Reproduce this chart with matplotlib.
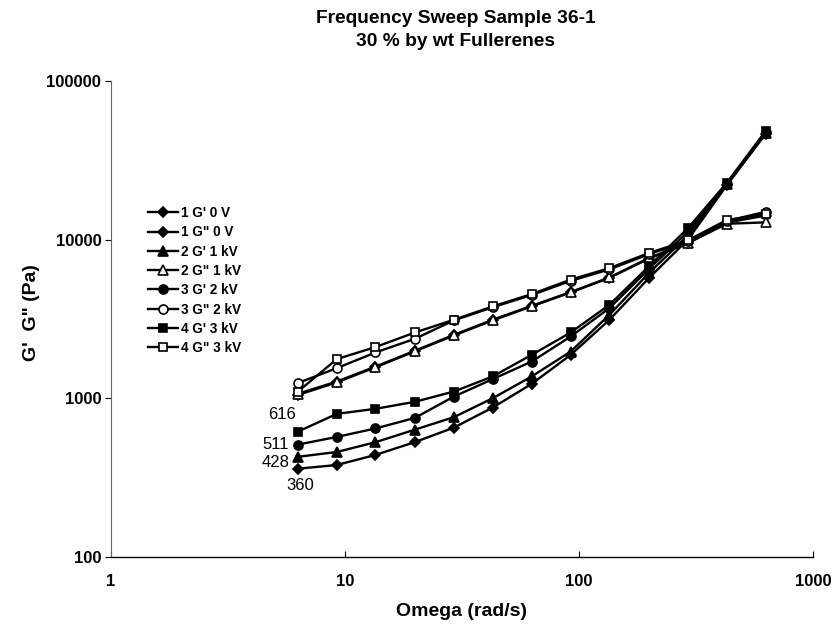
import matplotlib
matplotlib.use("Agg")
import matplotlib.pyplot as plt
from matplotlib.ticker import FixedLocator, NullLocator, FixedFormatter

plt.rcParams['font.family'] = ['Liberation Sans', 'DejaVu Sans']

omega = [6.28, 9.22, 13.5, 19.9, 29.2, 42.8, 62.8, 92.2, 135, 199, 292, 428, 628]

g1_p = [360, 380, 440, 530, 654, 875, 1234, 1880, 3128, 5730, 10000, 22000, 46500]
g1_pp = [1050, 1260, 1570, 1980, 2490, 3100, 3800, 4650, 5750, 7600, 9500, 12800, 14200]
g2_p = [428, 459, 529, 635, 761, 1002, 1374, 1973, 3364, 6160, 10600, 22300, 47000]
g2_pp = [1067, 1276, 1585, 1995, 2514, 3128, 3830, 4675, 5780, 7670, 9525, 12600, 12850]
g3_p = [511, 571, 646, 753, 1026, 1322, 1706, 2454, 3706, 6530, 11200, 22500, 47500]
g3_pp = [1248, 1549, 1946, 2373, 3100, 3750, 4480, 5500, 6500, 8100, 9800, 13100, 15000]
g4_p = [616, 798, 859, 951, 1104, 1374, 1880, 2600, 3890, 6790, 11800, 22800, 48500]
g4_pp = [1100, 1766, 2105, 2600, 3128, 3796, 4540, 5600, 6620, 8240, 9900, 13300, 14500]

labels = ["1 G' 0 V", '1 G" 0 V', "2 G' 1 kV", '2 G" 1 kV',
          "3 G' 2 kV", '3 G" 2 kV', "4 G' 3 kV", '4 G" 3 kV']
series = [g1_p, g1_pp, g2_p, g2_pp, g3_p, g3_pp, g4_p, g4_pp]
markers = ['D', 'D', '^', '^', 'o', 'o', 's', 's']
filled = [True, True, True, False, True, False, True, False]
msizes = [5.5, 5.5, 6.5, 6.5, 6.5, 6.5, 6, 6]

first_labels = ['360', '428', '511', '616']
first_vals = [g1_p[0], g2_p[0], g3_p[0], g4_p[0]]
label_offsets = [(2, -17), (-22, -6), (-22, 0), (-16, 17)]

yticks = [100, 1000, 10000, 100000]
xticks = [1, 10, 100, 1000]

fig = plt.figure(figsize=(8.35, 6.26), dpi=100)
ax = fig.add_axes([111/835, 1-557/626, (813-111)/835, (557-81)/626])

for s, lab, m, f, ms in zip(series, labels, markers, filled, msizes):
    ax.plot(omega, s, color='black', lw=1.7, marker=m, markersize=ms,
            markerfacecolor='black' if f else 'white', markeredgecolor='black',
            markeredgewidth=1.2, label=lab)

for t, v, off in zip(first_labels, first_vals, label_offsets):
    ax.annotate(t, xy=(omega[0], v), xytext=off, textcoords='offset pixels',
                ha='center', va='center', fontsize=12)

ax.set_xscale('log')
ax.set_yscale('log')
ax.set_xlim(1, 1000)
ax.set_ylim(100, 100000)
ax.xaxis.set_major_locator(FixedLocator(xticks))
ax.xaxis.set_major_formatter(FixedFormatter([str(v) for v in xticks]))
ax.yaxis.set_major_locator(FixedLocator(yticks))
ax.yaxis.set_major_formatter(FixedFormatter([str(v) for v in yticks]))
ax.xaxis.set_minor_locator(NullLocator())
ax.yaxis.set_minor_locator(NullLocator())

ax.spines['top'].set_visible(False)
ax.spines['right'].set_visible(False)
ax.spines['left'].set_color('#666666')
ax.spines['left'].set_linewidth(0.8)
ax.spines['bottom'].set_linewidth(1.0)
ax.tick_params(axis='x', direction='in', length=4, labelsize=12, pad=12)
ax.tick_params(axis='y', direction='out', length=4, labelsize=12, pad=3)
for lbl in ax.get_xticklabels() + ax.get_yticklabels():
    lbl.set_fontweight('bold')

ax.set_xlabel('Omega (rad/s)', fontsize=14, fontweight='bold', labelpad=10)
ax.set_ylabel('G\'  G" (Pa)', fontsize=14, fontweight='bold')
ax.yaxis.set_label_coords(40/835, 0.5, transform=fig.transFigure)

fig.text(456/835, 1-30/626, 'Frequency Sweep Sample 36-1\n30 % by wt Fullerenes',
         ha='center', va='center', fontsize=13.8, fontweight='bold', linespacing=1.4)

leg = ax.legend(loc='upper left', bbox_to_anchor=(148/835, 1-206/626),
                bbox_transform=fig.transFigure, frameon=False,
                prop={'weight': 'bold', 'size': 9.8}, handlelength=2.2,
                handletextpad=0.2, labelspacing=0.39, borderpad=0, borderaxespad=0)

fig.savefig('out.png', dpi=100, facecolor='white')
